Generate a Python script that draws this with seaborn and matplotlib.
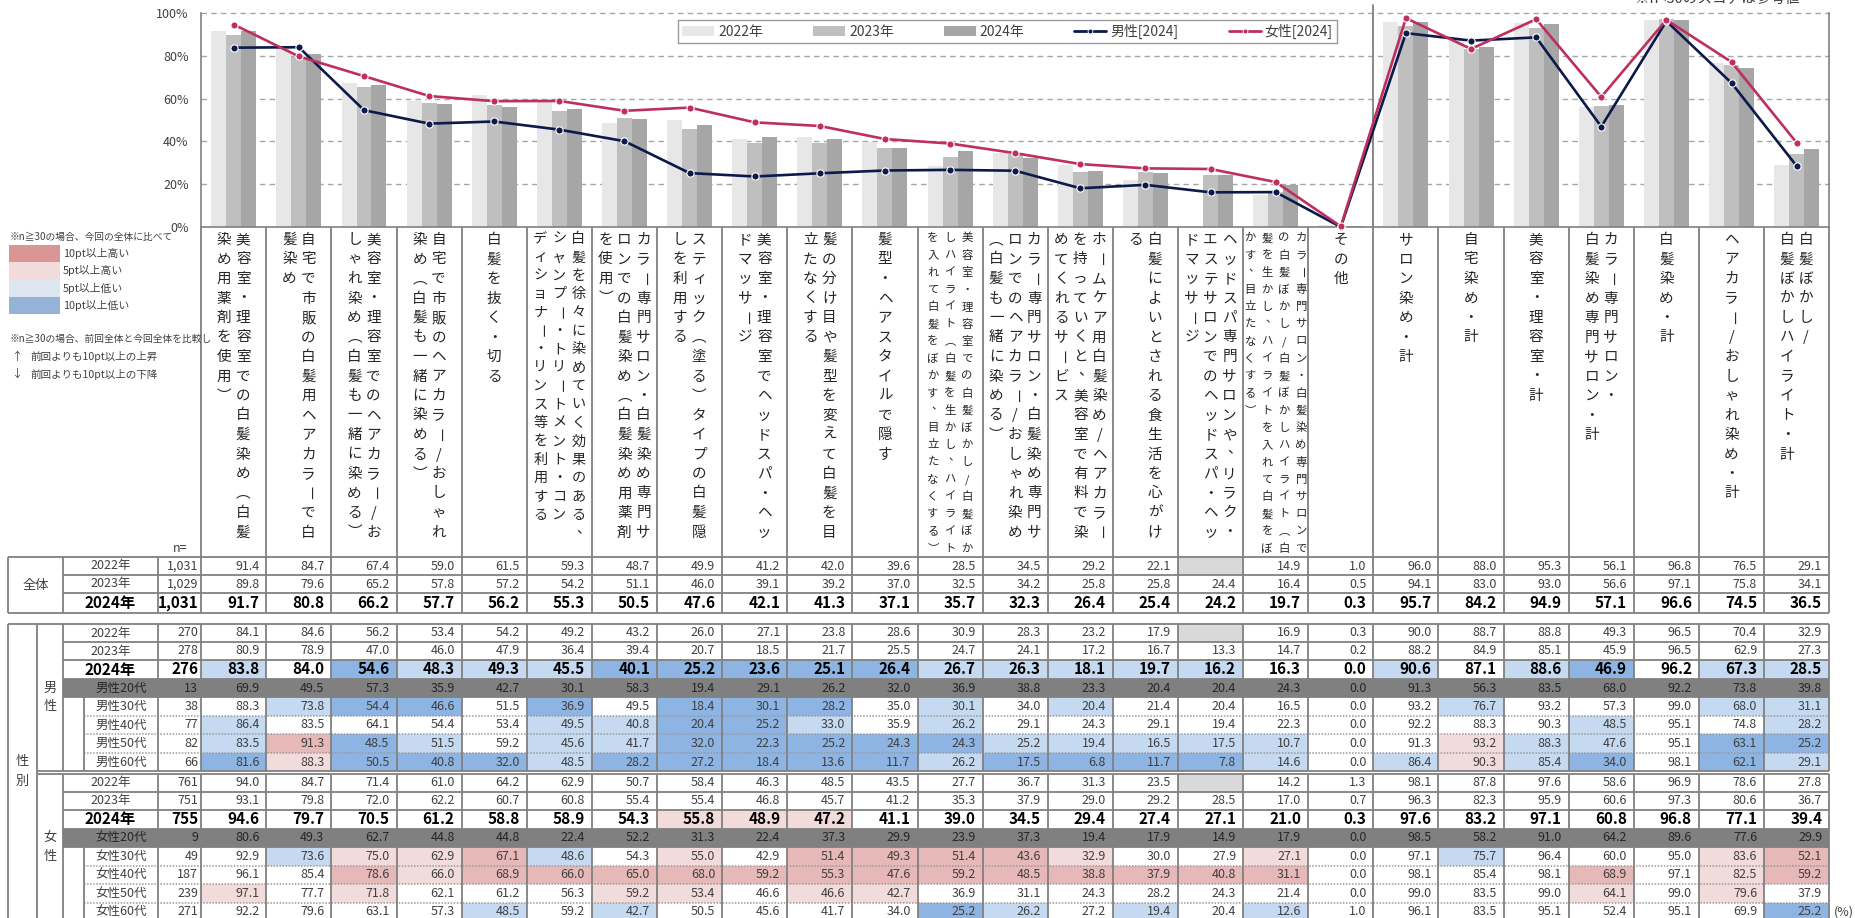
import numpy as np
import pandas as pd
import matplotlib
matplotlib.use("Agg")
import matplotlib.pyplot as plt
import seaborn as sns
from matplotlib.patches import Rectangle, Patch
from matplotlib.lines import Line2D

# ---------------- data ----------------
categories = [
    "美容室・理容室での白髪染め（白髪\n染め用薬剤を使用）",
    "自宅で市販の白髪用ヘアカラーで白\n髪染め",
    "美容室・理容室でのヘアカラー/お\nしゃれ染め（白髪も一緒に染める）",
    "自宅で市販のヘアカラー/おしゃれ\n染め（白髪も一緒に染める）",
    "白髪を抜く・切る",
    "白髪を徐々に染めていく効果のある、\nシャンプー・トリートメント・コン\nディショナー・リンス等を利用する",
    "カラー専門サロン・白髪染め専門サ\nロンでの白髪染め（白髪染め用薬剤\nを使用）",
    "スティック（塗る）タイプの白髪隠\nしを利用する",
    "美容室・理容室でヘッドスパ・ヘッ\nドマッサージ",
    "髪の分け目や髪型を変えて白髪を目\n立たなくする",
    "髪型・ヘアスタイルで隠す",
    "美容室・理容室での白髪ぼかし/白髪ぼか\nしハイライト（白髪を生かし、ハイライト\nを入れて白髪をぼかす、目立たなくする）",
    "カラー専門サロン・白髪染め専門サ\nロンでのヘアカラー/おしゃれ染め\n（白髪も一緒に染める）",
    "ホームケア用白髪染め/ヘアカラー\nを持っていくと、美容室で有料で染\nめてくれるサービス",
    "白髪によいとされる食生活を心がけ\nる",
    "ヘッドスパ専門サロンや、リラク・\nエステサロンでのヘッドスパ・ヘッ\nドマッサージ",
    "カラー専門サロン・白髪染め専門サロンで\nの白髪ぼかし/白髪ぼかしハイライト（白\n髪を生かし、ハイライトを入れて白髪をぼ\nかす、目立たなくする）",
    "その他",
    "サロン染め・計",
    "自宅染め・計",
    "美容室・理容室・計",
    "カラー専門サロン・\n白髪染め専門サロン・計",
    "白髪染め・計",
    "ヘアカラー/おしゃれ染め・計",
    "白髪ぼかし/\n白髪ぼかしハイライト・計",
]
years = ["2022年", "2023年", "2024年"]
nan = np.nan

total_2022 = [91.4, 84.7, 67.4, 59.0, 61.5, 59.3, 48.7, 49.9, 41.2, 42.0, 39.6, 28.5, 34.5, 29.2, 22.1, nan, 14.9, 1.0, 96.0, 88.0, 95.3, 56.1, 96.8, 76.5, 29.1]
total_2023 = [89.8, 79.6, 65.2, 57.8, 57.2, 54.2, 51.1, 46.0, 39.1, 39.2, 37.0, 32.5, 34.2, 25.8, 25.8, 24.4, 16.4, 0.5, 94.1, 83.0, 93.0, 56.6, 97.1, 75.8, 34.1]
total_2024 = [91.7, 80.8, 66.2, 57.7, 56.2, 55.3, 50.5, 47.6, 42.1, 41.3, 37.1, 35.7, 32.3, 26.4, 25.4, 24.2, 19.7, 0.3, 95.7, 84.2, 94.9, 57.1, 96.6, 74.5, 36.5]

male_2022 = [84.1, 84.6, 56.2, 53.4, 54.2, 49.2, 43.2, 26.0, 27.1, 23.8, 28.6, 30.9, 28.3, 23.2, 17.9, nan, 16.9, 0.3, 90.0, 88.7, 88.8, 49.3, 96.5, 70.4, 32.9]
male_2023 = [80.9, 78.9, 47.0, 46.0, 47.9, 36.4, 39.4, 20.7, 18.5, 21.7, 25.5, 24.7, 24.1, 17.2, 16.7, 13.3, 14.7, 0.2, 88.2, 84.9, 85.1, 45.9, 96.5, 62.9, 27.3]
male_2024 = [83.8, 84.0, 54.6, 48.3, 49.3, 45.5, 40.1, 25.2, 23.6, 25.1, 26.4, 26.7, 26.3, 18.1, 19.7, 16.2, 16.3, 0.0, 90.6, 87.1, 88.6, 46.9, 96.2, 67.3, 28.5]
male_20s = [69.9, 49.5, 57.3, 35.9, 42.7, 30.1, 58.3, 19.4, 29.1, 26.2, 32.0, 36.9, 38.8, 23.3, 20.4, 20.4, 24.3, 0.0, 91.3, 56.3, 83.5, 68.0, 92.2, 73.8, 39.8]
male_30s = [88.3, 73.8, 54.4, 46.6, 51.5, 36.9, 49.5, 18.4, 30.1, 28.2, 35.0, 30.1, 34.0, 20.4, 21.4, 20.4, 16.5, 0.0, 93.2, 76.7, 93.2, 57.3, 99.0, 68.0, 31.1]
male_40s = [86.4, 83.5, 64.1, 54.4, 53.4, 49.5, 40.8, 20.4, 25.2, 33.0, 35.9, 26.2, 29.1, 24.3, 29.1, 19.4, 22.3, 0.0, 92.2, 88.3, 90.3, 48.5, 95.1, 74.8, 28.2]
male_50s = [83.5, 91.3, 48.5, 51.5, 59.2, 45.6, 41.7, 32.0, 22.3, 25.2, 24.3, 24.3, 25.2, 19.4, 16.5, 17.5, 10.7, 0.0, 91.3, 93.2, 88.3, 47.6, 95.1, 63.1, 25.2]
male_60s = [81.6, 88.3, 50.5, 40.8, 32.0, 48.5, 28.2, 27.2, 18.4, 13.6, 11.7, 26.2, 17.5, 6.8, 11.7, 7.8, 14.6, 0.0, 86.4, 90.3, 85.4, 34.0, 98.1, 62.1, 29.1]

female_2022 = [94.0, 84.7, 71.4, 61.0, 64.2, 62.9, 50.7, 58.4, 46.3, 48.5, 43.5, 27.7, 36.7, 31.3, 23.5, nan, 14.2, 1.3, 98.1, 87.8, 97.6, 58.6, 96.9, 78.6, 27.8]
female_2023 = [93.1, 79.8, 72.0, 62.2, 60.7, 60.8, 55.4, 55.4, 46.8, 45.7, 41.2, 35.3, 37.9, 29.0, 29.2, 28.5, 17.0, 0.7, 96.3, 82.3, 95.9, 60.6, 97.3, 80.6, 36.7]
female_2024 = [94.6, 79.7, 70.5, 61.2, 58.8, 58.9, 54.3, 55.8, 48.9, 47.2, 41.1, 39.0, 34.5, 29.4, 27.4, 27.1, 21.0, 0.3, 97.6, 83.2, 97.1, 60.8, 96.8, 77.1, 39.4]
female_20s = [80.6, 49.3, 62.7, 44.8, 44.8, 22.4, 52.2, 31.3, 22.4, 37.3, 29.9, 23.9, 37.3, 19.4, 17.9, 14.9, 17.9, 0.0, 98.5, 58.2, 91.0, 64.2, 89.6, 77.6, 29.9]
female_30s = [92.9, 73.6, 75.0, 62.9, 67.1, 48.6, 54.3, 55.0, 42.9, 51.4, 49.3, 51.4, 43.6, 32.9, 30.0, 27.9, 27.1, 0.0, 97.1, 75.7, 96.4, 60.0, 95.0, 83.6, 52.1]
female_40s = [96.1, 85.4, 78.6, 66.0, 68.9, 66.0, 65.0, 68.0, 59.2, 55.3, 47.6, 59.2, 48.5, 38.8, 37.9, 40.8, 31.1, 0.0, 98.1, 85.4, 98.1, 68.9, 97.1, 82.5, 59.2]
female_50s = [97.1, 77.7, 71.8, 62.1, 61.2, 56.3, 59.2, 53.4, 46.6, 46.6, 42.7, 36.9, 31.1, 24.3, 28.2, 24.3, 21.4, 0.0, 99.0, 83.5, 99.0, 64.1, 99.0, 79.6, 37.9]
female_60s = [92.2, 79.6, 63.1, 57.3, 48.5, 59.2, 42.7, 50.5, 45.6, 41.7, 34.0, 25.2, 26.2, 27.2, 19.4, 20.4, 12.6, 1.0, 96.1, 83.5, 95.1, 52.4, 95.1, 69.9, 25.2]

n_total = [1031, 1029, 1031]
n_male = [270, 278, 276]
n_male_age = [13, 38, 77, 82, 66]
n_female = [761, 751, 755]
n_female_age = [9, 49, 187, 239, 271]
male_age_labels = ["男性20代", "男性30代", "男性40代", "男性50代", "男性60代"]
female_age_labels = ["女性20代", "女性30代", "女性40代", "女性50代", "女性60代"]

legend_notes = ["10pt以上高い", "5pt以上高い", "5pt以上低い", "10pt以上低い"]

# ---------------- style ----------------
sns.set_style("white")
FONTS = ['Noto Sans CJK JP', 'DejaVu Sans']
plt.rcParams['font.family'] = FONTS

BAR_COLORS = ['#E7E7E7', '#BFBFBF', '#A6A6A6']
NAVY = '#0C1A4B'
CRIMSON = '#BE2F5C'
GC = '#808080'
TXT = '#404040'
CELL_COLORS = {2: '#E6B8B7', 1: '#F2DCDB', -1: '#C5D9F1', -2: '#8DB4E2'}
NOTE_COLORS = ['#DA9694', '#F2DCDB', '#DCE6F1', '#95B3D7']

W, H = 1856, 918
fig = plt.figure(figsize=(W / 100, H / 100), dpi=100)
ov = fig.add_axes([0, 0, 1, 1])
ov.set_xlim(0, W)
ov.set_ylim(H, 0)
ov.axis('off')

NCAT = len(categories)
X0, CW = 201.2, 65.12
XB = [X0 + CW * i for i in range(NCAT + 1)]
XR = XB[-1]
Y_TOP, Y_BOT = 13, 227
ax = fig.add_axes([X0 / W, 1 - Y_BOT / H, (XR - X0) / W, (Y_BOT - Y_TOP) / H])
ax.set_zorder(2)

# ---------------- chart ----------------
recs = []
for yr, vals in zip(years, [total_2022, total_2023, total_2024]):
    for c, v in zip(categories, vals):
        recs.append((c, yr, v))
df = pd.DataFrame(recs, columns=['cat', 'year', 'value']).dropna()

for v in [20, 40, 60, 80, 100]:
    ax.axhline(v, color='#A6A6A6', lw=1.0, ls=(0, (4, 3)), zorder=0.5, clip_on=False)

sns.barplot(data=df, x='cat', y='value', hue='year', order=categories, hue_order=years,
            palette=BAR_COLORS, width=0.69, saturation=1, errorbar=None, linewidth=0,
            legend=False, ax=ax, zorder=2)

xpos = np.arange(NCAT)
ax.plot(xpos, male_2024, color=NAVY, lw=1.9, marker='o', ms=5.2, mfc=NAVY, mec='white',
        mew=0.8, zorder=5, clip_on=False)
ax.plot(xpos, female_2024, color=CRIMSON, lw=1.9, marker='o', ms=5.2, mfc=CRIMSON, mec='white',
        mew=0.8, zorder=6, clip_on=False)

ax.set_xlim(-0.5, NCAT - 0.5)
ax.set_ylim(0, 100)
ax.set_xticks([])
ax.set_xlabel('')
ax.set_ylabel('')
ax.set_yticks(range(0, 101, 20))
ax.set_yticklabels([f"{v}%" for v in range(0, 101, 20)], fontsize=9, color=TXT)
ax.tick_params(axis='y', length=0, pad=9)
ax.spines['top'].set_visible(False)
for s in ['left', 'right', 'bottom']:
    ax.spines[s].set_color(GC)
    ax.spines[s].set_linewidth(1.2)
ax.axvline(17.5, ymin=0, ymax=1 + 8 / (Y_BOT - Y_TOP), color=GC, lw=1.3, clip_on=False, zorder=3)

handles = [Patch(facecolor=c, edgecolor='none') for c in BAR_COLORS] + [
    Line2D([0], [0], color=NAVY, lw=2, marker='o', ms=3.5, mfc=NAVY, mec='white', mew=0.6),
    Line2D([0], [0], color=CRIMSON, lw=2, marker='o', ms=3.5, mfc=CRIMSON, mec='white', mew=0.6)]
labels = years + ["男性[2024]", "女性[2024]"]
leg = fig.legend(handles, labels, loc='center', ncol=5, mode='expand',
                 bbox_to_anchor=(678 / W, 1 - 44 / H, 659 / W, 25 / H),
                 frameon=True, fancybox=False, edgecolor=GC, fontsize=10,
                 handlelength=2.3, handleheight=0.75, handletextpad=0.3,
                 borderpad=0.3, borderaxespad=0, columnspacing=1.5)
leg.get_frame().set_linewidth(1.0)
for t in leg.get_texts():
    t.set_color(TXT)

ov.text(1800, -1, "※n<30のスコアは参考値", ha='right', va='center', fontsize=10.5, color=TXT)

# ---------------- category labels ----------------
VMAP = {'（': '︵', '）': '︶'}

def vchar(x, y, ch, fs):
    col = '#262626'
    if ch in VMAP:
        ov.text(x, y, VMAP[ch], ha='center', va='center', fontsize=fs, color=col, zorder=4)
    elif ch in 'ー～':
        ov.text(x, y, ch, rotation=-90, ha='center', va='center', fontsize=fs, color=col, zorder=4)
    elif ch in '、。':
        ov.text(x + fs * 0.5, y - fs * 0.55, ch, ha='center', va='center', fontsize=fs, color=col, zorder=4)
    else:
        ov.text(x, y, ch, ha='center', va='center', fontsize=fs, color=col, zorder=4)

SMALL = {11, 16}
for i, lab in enumerate(categories):
    cx = (XB[i] + XB[i + 1]) / 2
    cols = lab.split('\n')
    if i in SMALL:
        fs, pitch, gap, y0 = 8.2, 17.25, 17.0, 238
    elif i == 5:
        fs, pitch, gap, y0 = 10.2, 18.4, 19.0, 239
    else:
        fs, pitch, gap, y0 = 10.5, 19.5, 19.0, 240
    k = len(cols)
    for j, col in enumerate(cols):
        x = cx + ((k - 1) / 2 - j) * gap
        for m, ch in enumerate(col):
            vchar(x, y0 + m * pitch, ch, fs)

for x in XB:
    ov.plot([x, x], [Y_BOT, 557], color=GC, lw=1.3, zorder=2, solid_capstyle='butt')
ov.text(180, 548, "n=", ha='center', va='center', fontsize=9, color=TXT)

# ---------------- left notes ----------------
ov.text(10, 237, "※n≧30の場合、今回の全体に比べて", ha='left', va='center', fontsize=7, color=TXT)
for k, (lab, col) in enumerate(zip(legend_notes, NOTE_COLORS)):
    y = 245 + k * 17.2
    ov.add_patch(Rectangle((9, y), 51, 17.2, fc=col, ec='none'))
    ov.text(63, y + 8.6, lab, ha='left', va='center', fontsize=7.8, color=TXT)
ov.text(10, 339, "※n≧30の場合、前回全体と今回全体を比較し", ha='left', va='center', fontsize=7, color=TXT)
ov.text(17, 357, "↑", ha='center', va='center', fontsize=8, color=TXT)
ov.text(30, 357, "前回よりも10pt以上の上昇", ha='left', va='center', fontsize=7.6, color=TXT)
ov.text(17, 374, "↓", ha='center', va='center', fontsize=8, color=TXT)
ov.text(30, 374, "前回よりも10pt以上の下降", ha='left', va='center', fontsize=7.6, color=TXT)

# ---------------- table ----------------
X_L, X_G, X_M, X_I, X_N = 8, 37, 63, 84, 158

def hl(y, x0, x1, ls='-', c=GC, lw=1.3, z=2):
    ov.plot([x0, x1], [y, y], color=c, lw=lw, ls=ls, zorder=z, solid_capstyle='butt')

def vl(x, y0, y1, c=GC, lw=1.3, z=2):
    ov.plot([x, x], [y0, y1], color=c, lw=lw, zorder=z, solid_capstyle='butt')

def level(v, base):
    d = round(v - base, 1)
    if d >= 10:
        return 2
    if d > 5.0:
        return 1
    if d <= -10:
        return -2
    if d < -5.0:
        return -1
    return 0

def draw_row(y0, y1, label, n, vals, kind, compare):
    yc = (y0 + y1) / 2
    bold = kind == 'bold'
    young = n < 30
    fs = 11 if bold else 9
    fw = 'bold' if bold else 'normal'
    tc = 'black' if bold else ('#262626' if young else TXT)
    if young:
        ov.add_patch(Rectangle((X_M, y0), XR - X_M, y1 - y0, fc='#808080', ec='none', zorder=3))
    lx = 121 if kind == 'age' else 110.5
    ov.text(lx, yc, label, ha='center', va='center', fontsize=fs, fontweight=fw, color=tc, zorder=5)
    ov.text(XB[0] - 3, yc, f"{n:,}", ha='right', va='center', fontsize=fs, fontweight=fw, color=tc, zorder=5)
    for i, v in enumerate(vals):
        if np.isnan(v):
            ov.add_patch(Rectangle((XB[i], y0), CW, y1 - y0, fc='#D9D9D9', ec='none', zorder=1))
            continue
        if compare and not young:
            lv = level(v, total_2024[i])
            if lv != 0:
                ov.add_patch(Rectangle((XB[i], y0), CW, y1 - y0, fc=CELL_COLORS[lv], ec='none', zorder=1))
        ov.text(XB[i + 1] - 7, yc, f"{v:.1f}", ha='right', va='center', fontsize=fs,
                fontweight=fw, color=tc, zorder=5)

# total block
ty = [557, 575, 593, 613]
total_rows = [(years[0], n_total[0], total_2022, 'year'),
              (years[1], n_total[1], total_2023, 'year'),
              (years[2], n_total[2], total_2024, 'bold')]
for k, (lab, n, vals, kind) in enumerate(total_rows):
    draw_row(ty[k], ty[k + 1], lab, n, vals, kind, False)
hl(ty[0], X_L, XR)
hl(ty[-1], X_L, XR)
for y in ty[1:-1]:
    hl(y, X_M, XR)
for x in [X_L, X_M, X_N] + XB:
    vl(x, ty[0], ty[-1])
ov.text((X_L + X_M) / 2, (ty[0] + ty[-1]) / 2, "全体", ha='center', va='center', fontsize=9.5, color=TXT)

def gender_block(ys, rows, g_char):
    for k, (lab, n, vals, kind) in enumerate(rows):
        draw_row(ys[k], ys[k + 1], lab, n, vals, kind, kind in ('bold', 'age'))
    for k in range(1, 5):
        hl(ys[k], X_M, XR)
    for k in range(5, 8):
        hl(ys[k], X_I, XR, ls=(0, (1, 1)), c='#9A9A9A', lw=1.1)
    for x in [X_M, X_N] + XB:
        vl(x, ys[0], ys[-1])
    vl(X_I, ys[4], ys[-1])
    ov.text((X_G + X_M) / 2, (ys[3] + ys[4]) / 2, g_char[0], ha='center', va='center', fontsize=9.5, color=TXT)
    ov.text((X_G + X_M) / 2, (ys[4] + ys[5]) / 2, g_char[1], ha='center', va='center', fontsize=9.5, color=TXT)

my = [624, 642, 660, 679, 697, 716, 734, 753, 771]
fy = [773.5, 791.5, 809.5, 828.5, 847, 865.5, 884, 902.5, 921]
male_rows = [(years[0], n_male[0], male_2022, 'year'),
             (years[1], n_male[1], male_2023, 'year'),
             (years[2], n_male[2], male_2024, 'bold')] + \
            [(l, n, v, 'age') for l, n, v in zip(male_age_labels, n_male_age,
                                                  [male_20s, male_30s, male_40s, male_50s, male_60s])]
female_rows = [(years[0], n_female[0], female_2022, 'year'),
               (years[1], n_female[1], female_2023, 'year'),
               (years[2], n_female[2], female_2024, 'bold')] + \
              [(l, n, v, 'age') for l, n, v in zip(female_age_labels, n_female_age,
                                                    [female_20s, female_30s, female_40s, female_50s, female_60s])]
gender_block(my, male_rows, "男性")
gender_block(fy, female_rows, "女性")
hl(my[0], X_L, XR)
hl(771, X_G, XR)
hl(773.5, X_G, XR)
vl(X_L, my[0], 921)
vl(X_G, my[0], 921)
ov.text((X_L + X_G) / 2, 762, "性", ha='center', va='center', fontsize=9.5, color=TXT)
ov.text((X_L + X_G) / 2, 781, "別", ha='center', va='center', fontsize=9.5, color=TXT)
ov.text(1834, 912, "(%)", ha='left', va='center', fontsize=9, color=TXT)

fig.savefig("out.png", dpi=100)
